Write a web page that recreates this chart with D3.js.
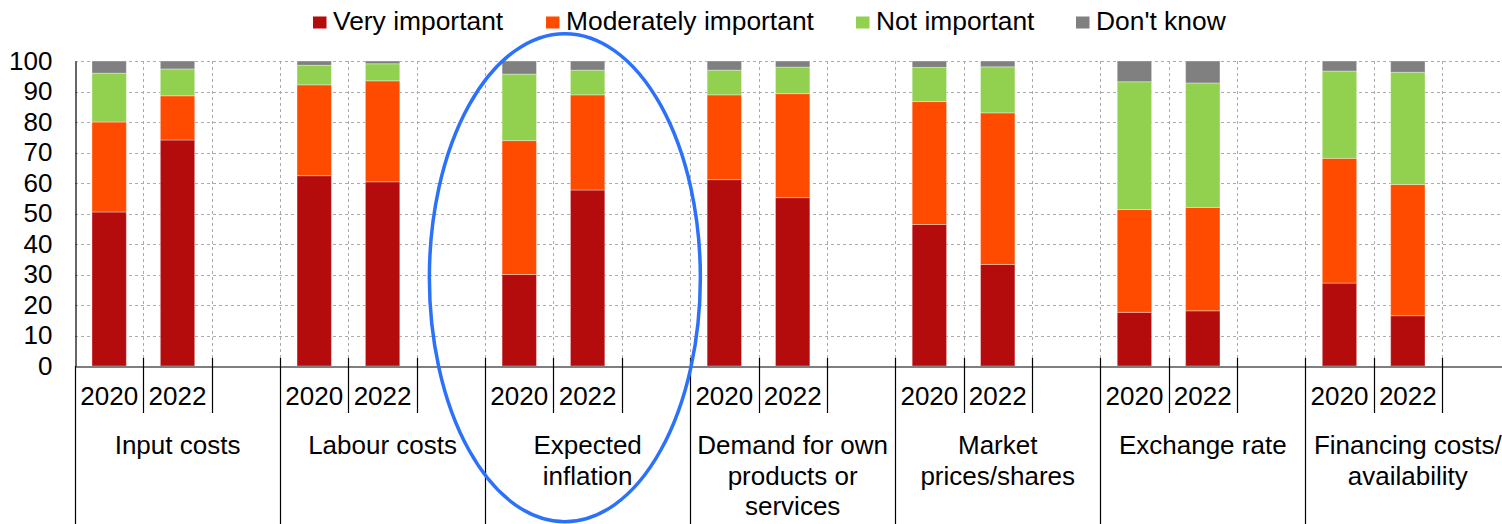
<!DOCTYPE html>
<html>
<head>
<meta charset="utf-8">
<script src="https://cdn.jsdelivr.net/npm/d3@7"></script>
<style>
  html, body { margin: 0; padding: 0; background: #fff; }
  svg { display: block; font-family: "Liberation Sans", Arial, sans-serif; }
</style>
</head>
<body>
<svg id="chart" width="1502" height="524"></svg>
<script>
// ---- data ----
const categories = [
  "Input costs",
  "Labour costs",
  "Expected inflation",
  "Demand for own products or services",
  "Market prices/shares",
  "Exchange rate",
  "Financing costs/ availability"
];
const categoryLines = [
  ["Input costs"],
  ["Labour costs"],
  ["Expected", "inflation"],
  ["Demand for own", "products or", "services"],
  ["Market", "prices/shares"],
  ["Exchange rate"],
  ["Financing costs/", "availability"]
];
const years = ["2020", "2022"];
const seriesNames = ["Very important", "Moderately important", "Not important", "Don't know"];
const seriesColors = ["#b40c0c", "#ff4b00", "#92d050", "#808080"];
// values in category order, 2020 then 2022
const veryImportant       = [50.5, 74.1, 62.4, 60.4, 30.0, 57.7, 61.1, 55.2, 46.4, 33.3, 17.6, 18.1, 27.2, 16.5];
const moderatelyImportant = [29.5, 14.5, 29.8, 33.1, 43.9, 31.2, 27.8, 34.1, 40.3, 49.7, 33.7, 33.9, 40.9, 43.0];
const notImportant        = [16.0,  8.8,  6.4,  5.6, 21.8,  8.1,  8.1,  8.7, 11.2, 15.1, 41.9, 40.8, 28.6, 36.8];
const dontKnow            = [ 4.0,  2.6,  1.4,  0.9,  4.3,  3.0,  3.0,  2.0,  2.1,  1.9,  6.8,  7.2,  3.3,  3.7];
const yTicks = [0, 10, 20, 30, 40, 50, 60, 70, 80, 90, 100];

// ---- build table ----
const seriesValues = [veryImportant, moderatelyImportant, notImportant, dontKnow];
const rows = [];
categories.forEach((c, ci) => {
  years.forEach((yr, yi) => {
    const r = { cat: c, year: yr };
    seriesNames.forEach((s, si) => { r[s] = seriesValues[si][ci * 2 + yi]; });
    rows.push(r);
  });
});

// ---- layout ----
const svg = d3.select("#chart");
const plotLeft = 75, plotTop = 61, plotBottom = 366;
const slotW = 68.35;
const plotRight = plotLeft + slotW * 3 * categories.length;
const FONT = 26;

const x0 = d3.scaleBand().domain(categories).range([plotLeft, plotRight]).padding(0);
const slots = ["2020", "2022", "gap"];
const x1 = d3.scaleBand().domain(slots).range([0, x0.bandwidth()]).padding(0);
const y = d3.scaleLinear().domain([0, 100]).range([plotBottom, plotTop]);

// gridlines
const grid = svg.append("g");
grid.selectAll("line.h").data(yTicks.filter(d => d > 0)).join("line")
  .attr("x1", plotLeft).attr("x2", 1502)
  .attr("y1", d => Math.round(y(d)) + 0.5).attr("y2", d => Math.round(y(d)) + 0.5)
  .attr("stroke", "#ababab").attr("stroke-width", 1).attr("stroke-dasharray", "3,3");
const slotEdges = [];
categories.forEach(c => slots.forEach(s => slotEdges.push(x0(c) + x1(s) + x1.bandwidth())));
grid.selectAll("line.v").data(slotEdges).join("line")
  .attr("x1", d => Math.round(d) + 0.5).attr("x2", d => Math.round(d) + 0.5)
  .attr("y1", plotTop).attr("y2", plotBottom)
  .attr("stroke", "#ababab").attr("stroke-width", 1).attr("stroke-dasharray", "3,3");

// stacked bars
const stack = d3.stack().keys(seriesNames)(rows);
const barW = x1.bandwidth() * 0.503;
svg.append("g").selectAll("g").data(stack).join("g")
  .attr("fill", (d, i) => seriesColors[i])
  .selectAll("rect").data(d => d).join("rect")
  .attr("x", d => x0(d.data.cat) + x1(d.data.year) + (x1.bandwidth() - barW) / 2)
  .attr("width", barW)
  .attr("y", d => y(d[1]))
  .attr("height", d => y(d[0]) - y(d[1]))
  .attr("stroke", "rgba(255,255,255,0.35)").attr("stroke-width", 1);

// y axis
const yAxis = svg.append("g").attr("transform", `translate(${plotLeft + 0.5},0)`)
  .call(d3.axisLeft(y).tickValues(yTicks).tickSize(0).tickSizeOuter(0).tickPadding(23));
yAxis.select(".domain").attr("stroke", "#000").attr("stroke-width", 1.2);
yAxis.selectAll("text").attr("font-size", FONT).attr("fill", "#000")
  .attr("font-family", "Liberation Sans, Arial, sans-serif");

// x axis (years)
const slotScale = d3.scaleBand()
  .domain(categories.flatMap(c => slots.map(s => c + "|" + s)))
  .range([plotLeft, plotRight]).padding(0);
const xAxis = svg.append("g").attr("transform", `translate(0,${plotBottom + 0.5})`)
  .call(d3.axisBottom(slotScale).tickSize(0).tickSizeOuter(0).tickPadding(20)
    .tickFormat(d => { const s = d.split("|")[1]; return s === "gap" ? "" : s; }));
xAxis.select(".domain").attr("stroke", "#000").attr("stroke-width", 1.2);
xAxis.selectAll("text").attr("font-size", FONT).attr("fill", "#000")
  .attr("font-family", "Liberation Sans, Arial, sans-serif");

// tick separators
const sep = svg.append("g");
sep.append("line").attr("x1", plotLeft + 0.5).attr("x2", plotLeft + 0.5)
  .attr("y1", plotBottom).attr("y2", 524).attr("stroke", "#000").attr("stroke-width", 1.2);
slotEdges.forEach((e, i) => {
  const isGroup = (i % 3) === 2;
  const xe = Math.round(e) + 0.5;
  sep.append("line").attr("x1", xe).attr("x2", xe)
    .attr("y1", plotBottom - 8).attr("y2", isGroup ? 524 : 413)
    .attr("stroke", "#000").attr("stroke-width", 1.2);
});

// category labels
categoryLines.forEach((lines, ci) => {
  const cx = x0(categories[ci]) + x0.bandwidth() / 2;
  const t = svg.append("text").attr("text-anchor", "middle")
    .attr("font-size", FONT).attr("fill", "#000");
  lines.forEach((ln, li) => {
    t.append("tspan").attr("x", cx).attr("y", 454 + li * 30.6).text(ln);
  });
});

// legend
const legendX = [313, 546, 856, 1076];
const legend = svg.append("g");
seriesNames.forEach((s, i) => {
  legend.append("rect").attr("x", legendX[i]).attr("y", 16.5).attr("width", 13.5).attr("height", 12)
    .attr("fill", seriesColors[i]);
  legend.append("text").attr("x", legendX[i] + 20).attr("y", 29.5)
    .attr("font-size", 26.4).attr("fill", "#000").text(s);
});

// annotation ellipse around "Expected inflation"
const eiX = x0("Expected inflation");
svg.append("ellipse")
  .attr("cx", eiX + x0.bandwidth() * 0.389)
  .attr("cy", 277.7)
  .attr("rx", 135.5)
  .attr("ry", 244)
  .attr("fill", "none")
  .attr("stroke", "#2c71fa")
  .attr("stroke-width", 3.5);
</script>
</body>
</html>
